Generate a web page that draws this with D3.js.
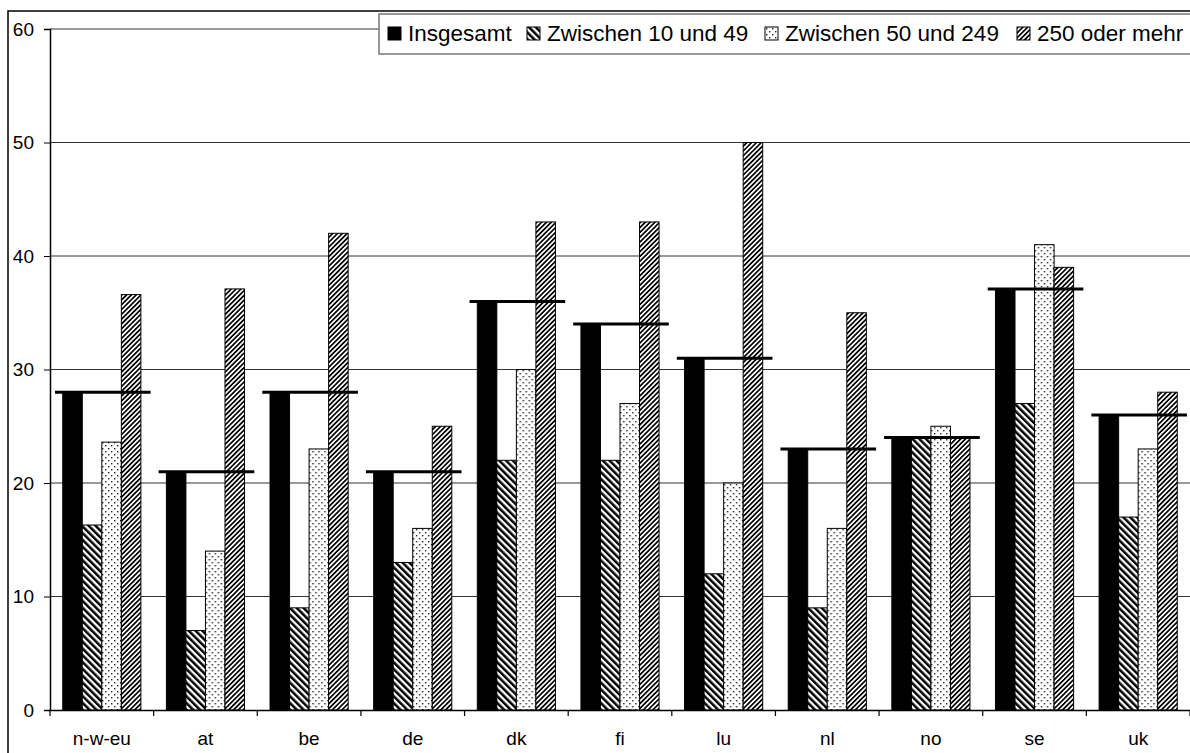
<!DOCTYPE html>
<html>
<head>
<meta charset="utf-8">
<script src="https://cdn.jsdelivr.net/npm/d3@7"></script>
<style>
  body { margin: 0; background: #fff; }
  svg { font-family: "Liberation Sans", Arial, sans-serif; }
</style>
</head>
<body>
<script>
// Data
var categories = ["n-w-eu", "at", "be", "de", "dk", "fi", "lu", "nl", "no", "se", "uk"];
var seriesNames = ["Insgesamt", "Zwischen 10 und 49", "Zwischen 50 und 249", "250 oder mehr"];
var insgesamt = [28, 21, 28, 21, 36, 34, 31, 23, 24, 37.1, 26];
var klein     = [16.3, 7, 9, 13, 22, 22, 12, 9, 24, 27, 17];
var mittel    = [23.6, 14, 23, 16, 30, 27, 20, 16, 25, 41, 23];
var gross     = [36.6, 37.1, 42, 25, 43, 43, 50, 35, 24, 39, 28];
var yTicks    = [0, 10, 20, 30, 40, 50, 60];

var allSeries = [insgesamt, klein, mittel, gross];
var fills = ["#000", "url(#p10)", "url(#p50)", "url(#p250)"];

var width = 1190, height = 753;

var svg = d3.select("body").append("svg")
  .attr("width", width)
  .attr("height", height);

// patterns
var defs = svg.append("defs");

var p10 = defs.append("pattern").attr("id", "p10")
  .attr("patternUnits", "userSpaceOnUse")
  .attr("width", 4.8).attr("height", 10)
  .attr("patternTransform", "rotate(-45)");
p10.append("rect").attr("width", 4.8).attr("height", 10).attr("fill", "#fff");
p10.append("rect").attr("width", 2.5).attr("height", 10).attr("fill", "#000");

var p250 = defs.append("pattern").attr("id", "p250")
  .attr("patternUnits", "userSpaceOnUse")
  .attr("width", 3.4).attr("height", 10)
  .attr("patternTransform", "rotate(45)");
p250.append("rect").attr("width", 3.4).attr("height", 10).attr("fill", "#fff");
p250.append("rect").attr("width", 1.7).attr("height", 10).attr("fill", "#000");

var p50 = defs.append("pattern").attr("id", "p50")
  .attr("patternUnits", "userSpaceOnUse")
  .attr("width", 6).attr("height", 6);
p50.append("rect").attr("width", 6).attr("height", 6).attr("fill", "#fff");
p50.append("rect").attr("x", 1).attr("y", 1).attr("width", 1.4).attr("height", 1.4).attr("fill", "#222");
p50.append("rect").attr("x", 4).attr("y", 4).attr("width", 1.4).attr("height", 1.4).attr("fill", "#222");

// outer border
svg.append("rect")
  .attr("x", 8).attr("y", 11)
  .attr("width", width).attr("height", height)
  .attr("fill", "none").attr("stroke", "#000").attr("stroke-width", 1.5);

// scales
var x = d3.scaleBand().domain(categories).range([50, 1190]);
var bw = x.bandwidth();
var x1 = d3.scaleBand().domain(d3.range(4)).range([bw * 0.123, bw * 0.877]);
var y = d3.scaleLinear().domain([0, 60]).range([710, 29]);

// gridlines
svg.append("g").selectAll("line")
  .data(yTicks.filter(function (d) { return d > 0; }))
  .enter().append("line")
  .attr("x1", 50).attr("x2", 1190)
  .attr("y1", function (d) { return y(d); })
  .attr("y2", function (d) { return y(d); })
  .attr("stroke", "#333").attr("stroke-width", 1);

// bars
var groups = svg.append("g").selectAll("g")
  .data(categories)
  .enter().append("g")
  .attr("transform", function (d) { return "translate(" + x(d) + ",0)"; });

groups.selectAll("rect")
  .data(function (d, i) { return allSeries.map(function (s, k) { return { k: k, v: s[i] }; }); })
  .enter().append("rect")
  .attr("x", function (d) { return x1(d.k); })
  .attr("width", x1.bandwidth())
  .attr("y", function (d) { return y(d.v); })
  .attr("height", function (d) { return y(0) - y(d.v); })
  .attr("fill", function (d) { return fills[d.k]; })
  .attr("stroke", "#000").attr("stroke-width", 1);

// Insgesamt marker line across each category
svg.append("g").selectAll("line")
  .data(categories)
  .enter().append("line")
  .attr("x1", function (d) { return x(d) + 5; })
  .attr("x2", function (d) { return x(d) + bw - 3; })
  .attr("y1", function (d, i) { return y(insgesamt[i]); })
  .attr("y2", function (d, i) { return y(insgesamt[i]); })
  .attr("stroke", "#000").attr("stroke-width", 3);

// y axis
var yAxis = svg.append("g")
  .attr("transform", "translate(50,0)")
  .call(d3.axisLeft(y).tickValues(yTicks).tickSize(6).tickPadding(10));
yAxis.select(".domain").attr("stroke", "#000").attr("stroke-width", 1.5);
yAxis.selectAll(".tick line").attr("stroke", "#000");
yAxis.selectAll("text")
  .attr("font-family", "Liberation Sans, Arial, sans-serif")
  .attr("font-size", 19).attr("fill", "#000");

// x axis
var xAxis = svg.append("g")
  .attr("transform", "translate(0,710)")
  .call(d3.axisBottom(x).tickSize(0).tickPadding(22));
xAxis.select(".domain").attr("stroke", "#000").attr("stroke-width", 1.5);
xAxis.selectAll("text")
  .attr("font-family", "Liberation Sans, Arial, sans-serif")
  .attr("font-size", 19).attr("fill", "#000");

// boundary ticks between categories
svg.append("g").selectAll("line")
  .data(categories.concat(["end"]))
  .enter().append("line")
  .attr("x1", function (d, i) { return 50 + i * bw; })
  .attr("x2", function (d, i) { return 50 + i * bw; })
  .attr("y1", 710).attr("y2", 716)
  .attr("stroke", "#000").attr("stroke-width", 1.2);

// legend
var legend = svg.append("g");
legend.append("rect")
  .attr("x", 379).attr("y", 14)
  .attr("width", 830).attr("height", 40)
  .attr("fill", "#fff").attr("stroke", "#777").attr("stroke-width", 1.5);

var legendX = [388, 527, 765, 1017];
var item = legend.selectAll("g.item")
  .data(seriesNames)
  .enter().append("g").attr("class", "item")
  .attr("transform", function (d, i) { return "translate(" + legendX[i] + ",27)"; });
item.append("rect")
  .attr("width", 13).attr("height", 13)
  .attr("fill", function (d, i) { return fills[i]; })
  .attr("stroke", "#000").attr("stroke-width", 1);
item.append("text")
  .attr("x", 20).attr("y", 14)
  .attr("font-size", 22.5)
  .attr("fill", "#000")
  .text(function (d) { return d; });
</script>
</body>
</html>
